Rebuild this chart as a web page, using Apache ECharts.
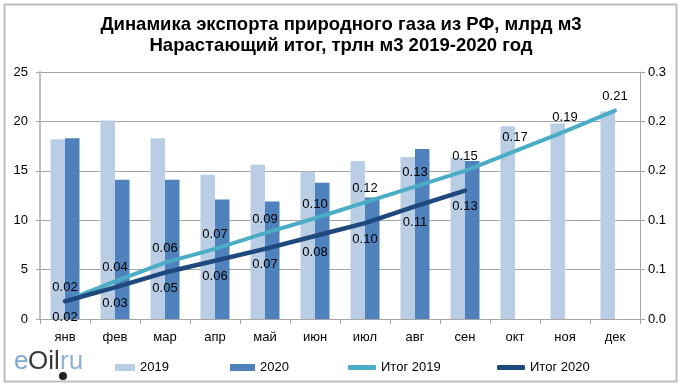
<!DOCTYPE html>
<html><head><meta charset="utf-8">
<script src="https://cdn.jsdelivr.net/npm/echarts@6/dist/echarts.min.js"></script>
<style>html,body{margin:0;padding:0;background:#fff}#c{width:682px;height:389px}</style>
</head><body><div id="c"></div>
<script>
const months = ['янв','фев','мар','апр','май','июн','июл','авг','сен','окт','ноя','дек'];
const exp2019 = [18.2, 20.1, 18.3, 14.6, 15.6, 14.9, 16.0, 16.4, 16.3, 19.5, 19.8, 21.0];
const exp2020 = [18.3, 14.1, 14.1, 12.1, 11.9, 13.8, 12.3, 17.2, 16.0];
const total2019 = [0.018, 0.038, 0.057, 0.071, 0.087, 0.102, 0.118, 0.134, 0.150, 0.170, 0.190, 0.211];
const total2020 = [0.018, 0.032, 0.047, 0.059, 0.071, 0.084, 0.097, 0.114, 0.130];
const leftTicks = [0, 5, 10, 15, 20, 25];
const rightTicks = [0, 0.05, 0.10, 0.15, 0.20, 0.25];

const FONT = 'Liberation Sans, Arial, sans-serif';
const chart = echarts.init(document.getElementById('c'), null, {renderer: 'canvas'});
const legendText = {fontFamily: FONT, fontSize: 13, color: '#000'};
chart.setOption({
  animation: false,
  backgroundColor: '#fff',
  title: {
    text: 'Динамика экспорта природного газа из РФ, млрд м3\nНарастающий итог, трлн м3 2019-2020 год',
    left: 'center', top: 9,
    textStyle: {fontFamily: FONT, fontSize: 18.5, fontWeight: 'bold', color: '#000', lineHeight: 21}
  },
  grid: {left: 40, right: 42, top: 72, bottom: 70},
  legend: [
    {left: 110, top: 356, data: ['2019'], itemWidth: 20, itemHeight: 7, icon: 'rect', textStyle: legendText},
    {left: 225, top: 356, data: ['2020'], itemWidth: 25, itemHeight: 7, icon: 'rect', textStyle: legendText},
    {left: 343, top: 356, data: ['Итог 2019'], itemWidth: 28, itemHeight: 5, icon: 'roundRect', textStyle: legendText},
    {left: 492, top: 356, data: ['Итог 2020'], itemWidth: 28, itemHeight: 5, icon: 'roundRect', textStyle: legendText}
  ],
  xAxis: {
    type: 'category', data: months,
    axisLine: {lineStyle: {color: '#a6a6a6', width: 1}},
    axisTick: {show: true, length: 5, lineStyle: {color: '#a6a6a6'}},
    axisLabel: {fontFamily: FONT, fontSize: 13, color: '#000', margin: 12}
  },
  yAxis: [
    {type: 'value', min: leftTicks[0], max: leftTicks[leftTicks.length-1], interval: 5,
     axisLine: {show: true, lineStyle: {color: '#bfbfbf', width: 2}},
     axisTick: {show: true, length: 4, lineStyle: {color: '#a6a6a6'}},
     axisLabel: {fontFamily: FONT, fontSize: 13, color: '#000', margin: 12},
     splitLine: {lineStyle: {color: '#a6a6a6', width: 1}}},
    {type: 'value', min: rightTicks[0], max: rightTicks[rightTicks.length-1], interval: 0.05,
     position: 'right',
     axisLine: {show: true, lineStyle: {color: '#a6a6a6', width: 1}},
     axisTick: {show: true, length: 5, lineStyle: {color: '#a6a6a6'}},
     axisLabel: {fontFamily: FONT, fontSize: 13, color: '#000', margin: 8,
       formatter: v => (Math.round(v * 10 + 1e-6) / 10).toFixed(1)},
     splitLine: {show: false}}
  ],
  series: [
    {name: '2019', type: 'bar', data: exp2019, yAxisIndex: 0, barGap: '0%', barCategoryGap: '42%',
     itemStyle: {color: '#b9cde5'}, z: 1},
    {name: '2020', type: 'bar', data: exp2020, yAxisIndex: 0,
     itemStyle: {color: '#4f81bd'}, z: 1},
    {name: 'Итог 2019', type: 'line', data: total2019, yAxisIndex: 1,
     symbol: 'circle', symbolSize: 1, itemStyle: {color: '#4bacc6'},
     lineStyle: {color: '#4bacc6', width: 4, cap: 'round'}, z: 3,
     label: {show: true, position: 'top', distance: 7, fontFamily: FONT, fontSize: 13, color: '#000',
       formatter: p => p.value.toFixed(2)}},
    {name: 'Итог 2020', type: 'line', data: total2020, yAxisIndex: 1,
     symbol: 'circle', symbolSize: 1, itemStyle: {color: '#1f497d'},
     lineStyle: {color: '#1f497d', width: 4.5, cap: 'round'}, z: 4,
     label: {show: true, position: 'bottom', distance: 9, fontFamily: FONT, fontSize: 13, color: '#000',
       formatter: p => p.value.toFixed(2)}}
  ],
  graphic: [
    {type: 'rect', shape: {x: 4.5, y: 4.5, width: 672, height: 377}, style: {fill: null, stroke: '#bfbfbf', lineWidth: 2}, silent: true, z: -1},
    {type: 'text', left: 14, top: 349, style: {text: 'e', font: '26px ' + FONT, fill: '#7ba7d4'}},
    {type: 'text', left: 28, top: 349, style: {text: 'Oil', font: '26px ' + FONT, fill: '#3a3a3a'}},
    {type: 'text', left: 60, top: 349, style: {text: 'ru', font: '26px ' + FONT, fill: '#8fb2d6'}},
    {type: 'circle', shape: {cx: 63, cy: 376, r: 4}, style: {fill: '#222'}}
  ]
});
</script></body></html>
